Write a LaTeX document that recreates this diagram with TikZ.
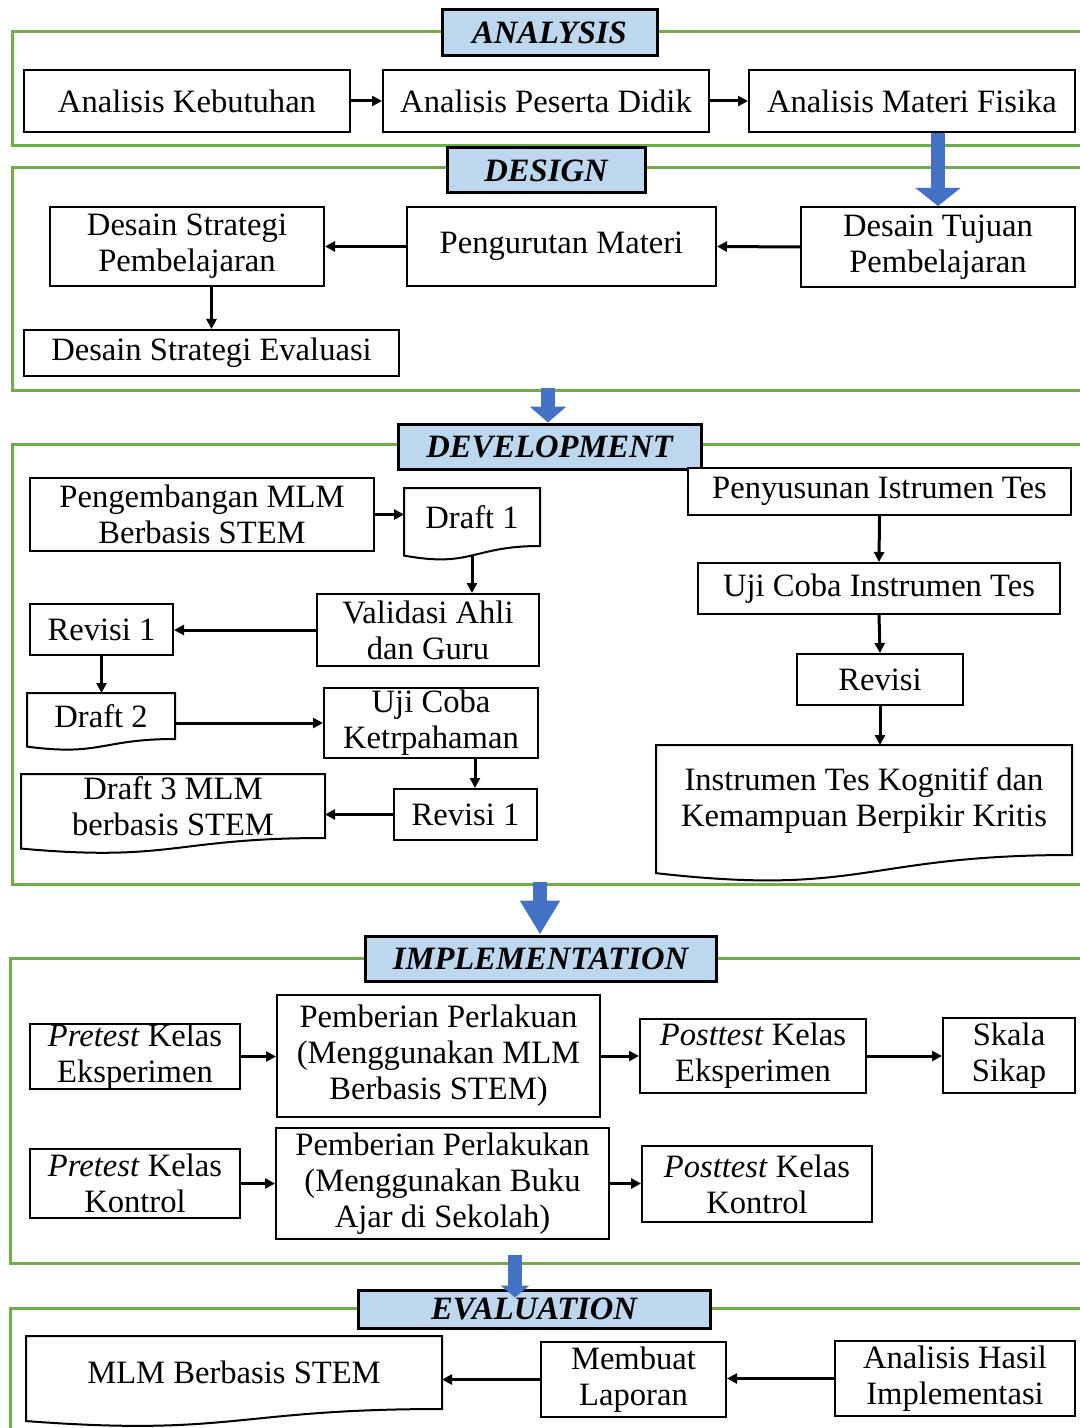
\documentclass[tikz,border=0pt]{standalone}
\usepackage{fontspec}
\setmainfont{Liberation Serif}
\usetikzlibrary{arrows.meta, calc}

\definecolor{framegreen}{HTML}{70AD47}
\definecolor{titleblue}{HTML}{BDD7EE}
\definecolor{arrowblue}{HTML}{4472C4}

% outline of a flowchart "document" node with a wavy bottom
\newcommand{\docoutline}[1]{%
  \draw[line width=1pt] (#1.north west) -- (#1.north east) -- (#1.south east)
    .. controls (#1.south) and ($(#1.north)!1.38!(#1.south)$)
    .. ($(#1.north west)!1.165!(#1.south west)$) -- cycle;
  \coordinate (#1-b) at ($(#1.north)!1.163!(#1.south)$);}

\begin{document}
\begin{tikzpicture}[
    x=0.5pt, y=-0.5pt,
    >={Triangle[length=5pt, width=5pt]},
    wh/.style 2 args={minimum width=#1*0.5pt, minimum height=#2*0.5pt},
    procbox/.style={draw, line width=1pt, fill=white, align=center,
                    inner sep=0pt, font=\fontsize{16.3}{18}\selectfont},
    docbox/.style={procbox, draw=none, fill=none},
    phasebox/.style={draw, line width=1.5pt, fill=titleblue, inner sep=0pt,
                     font=\fontsize{16.3}{18}\selectfont\bfseries\itshape},
    phaseframe/.style={draw=framegreen, line width=1.5pt},
    arr/.style={->, line width=1.5pt},
    bigarrow/.style 2 args={draw=arrowblue, line width=7pt,
                            -{Triangle[length=#1, width=#2]}}
  ]
  \useasboundingbox (0,0) rectangle (1080,1428);
  \fill[white] (0,0) rectangle (1080,1428);

  % green frames of the phases
  \draw[phaseframe] (1080,32) -- (12,32) -- (12,146) -- (1080,146);
  \draw[phaseframe] (1080,168) -- (12,168) -- (12,390) -- (1080,390);
  \draw[phaseframe] (1080,444) -- (12,444) -- (12,884) -- (1080,884);
  \draw[phaseframe] (1080,958) -- (10,958) -- (10,1263) -- (1080,1263);
  \draw[phaseframe] (1080,1308) -- (10,1308) -- (10,1428);

  \node[phasebox, wh={215}{46}] (analysis) at (549.5,33) {ANALYSIS};
  \node[phasebox, wh={198}{45}] (design) at (546,170.5) {DESIGN};
  \node[phasebox, wh={303}{45}] (development) at (549.5,446.5) {DEVELOPMENT};
  \node[phasebox, wh={351}{45}] (implementation) at (540.5,958.5) {IMPLEMENTATION};
  \node[phasebox, wh={352}{38}] (evaluation) at (534,1309) {EVALUATION};

  % analysis
  \node[procbox, wh={326}{62}] (kebutuhan) at (187,101) {Analisis Kebutuhan};
  \node[procbox, wh={326}{62}] (peserta) at (546,101) {Analisis Peserta Didik};
  \node[procbox, wh={326}{62}] (materi) at (912,101) {Analisis Materi Fisika};
  \draw[arr] (kebutuhan.east) -- (peserta.west);
  \draw[arr] (peserta.east) -- (materi.west);

  % design
  \node[procbox, wh={274}{79}] (strategi) at (187,246.5) {Desain Strategi\\Pembelajaran};
  \node[procbox, wh={309}{79}] (urutan) at (561.5,246.5) {Pengurutan Materi};
  \node[procbox, wh={274}{80}] (tujuan) at (938,247) {Desain Tujuan\\Pembelajaran};
  \node[procbox, wh={375}{46}] (evaluasi) at (211.5,353) {Desain Strategi Evaluasi};
  \draw[arr] (tujuan.west) -- (urutan.east);
  \draw[arr] (urutan.west) -- (strategi.east);
  \draw[arr] (evaluasi.north |- strategi.south) -- (evaluasi.north);

  % development
  \node[procbox, wh={344}{73}] (pengembangan) at (202,514.5) {Pengembangan MLM\\Berbasis STEM};
  \node[docbox, wh={134}{56}] (draft1) at (472,517) {Draft 1};
  \docoutline{draft1}
  \node[procbox, wh={222}{72}] (validasi) at (428,630) {Validasi Ahli\\dan Guru};
  \node[procbox, wh={143}{51}] (revisi1) at (101.5,629.5) {Revisi 1};
  \node[docbox, wh={146}{44}] (draft2) at (101,716) {Draft 2};
  \docoutline{draft2}
  \node[procbox, wh={214}{70}] (ujicoba) at (431,723) {Uji Coba\\Ketrpahaman};
  \node[procbox, wh={143}{51}] (revisi1b) at (465.5,814.5) {Revisi 1};
  \node[docbox, wh={302}{62}] (draft3) at (173,806) {Draft 3 MLM\\berbasis STEM};
  \docoutline{draft3}
  \draw[arr] (pengembangan.east) -- (pengembangan.east -| draft1.west);
  \draw[arr] (draft1-b) -- (validasi.north -| draft1-b);
  \draw[arr] (validasi.west) -- (validasi.west -| revisi1.east);
  \draw[arr] (revisi1.south) -- (revisi1.south |- draft2.north);
  \draw[arr] (draft2.east |- ujicoba.west) -- (ujicoba.west);
  \coordinate (ujidown) at (475,758);
  \draw[arr] (ujidown) -- (revisi1b.north -| ujidown);
  \draw[arr] (revisi1b.west) -- (revisi1b.west -| draft3.east);

  \node[procbox, wh={383}{47}] (penyusunan) at (879.5,491.5) {Penyusunan Istrumen Tes};
  \node[procbox, wh={362}{51}] (ujiinst) at (879,588.5) {Uji Coba Instrumen Tes};
  \node[procbox, wh={166}{51}] (revisi) at (880,679.5) {Revisi};
  \node[docbox, wh={414}{108}] (instrumen) at (864,800) {Instrumen Tes Kognitif dan\\Kemampuan Berpikir Kritis};
  \docoutline{instrumen}
  \draw[arr] (penyusunan.south) -- (ujiinst.north);
  \draw[arr] (ujiinst.south) -- (revisi.north);
  \draw[arr] (revisi.south) -- (revisi.south |- instrumen.north);

  % implementation
  \node[procbox, wh={210}{65}] (preexp) at (135,1056.5) {\textit{Pretest} Kelas\\Eksperimen};
  \node[procbox, wh={323}{122}] (perlakuan1) at (438.5,1056) {Pemberian Perlakuan\\(Menggunakan MLM\\Berbasis STEM)};
  \node[procbox, wh={226}{74}] (postexp) at (753,1056) {\textit{Posttest} Kelas\\Eksperimen};
  \node[procbox, wh={132}{75}] (skala) at (1009,1055.5) {Skala\\Sikap};
  \node[procbox, wh={210}{69}] (prekon) at (135,1183.5) {\textit{Pretest} Kelas\\Kontrol};
  \node[procbox, wh={333}{111}] (perlakuan2) at (442.5,1183.5) {Pemberian Perlakukan\\(Menggunakan Buku\\Ajar di Sekolah)};
  \node[procbox, wh={230}{76}] (postkon) at (757,1184) {\textit{Posttest} Kelas\\Kontrol};
  \draw[arr] (preexp.east) -- (preexp.east -| perlakuan1.west);
  \draw[arr] (perlakuan1.east) -- (perlakuan1.east -| postexp.west);
  \draw[arr] (postexp.east) -- (postexp.east -| skala.west);
  \draw[arr] (prekon.east) -- (prekon.east -| perlakuan2.west);
  \draw[arr] (perlakuan2.east) -- (perlakuan2.east -| postkon.west);

  % evaluation
  \node[docbox, wh={414}{71}] (mlm) at (234,1372.5) {MLM Berbasis STEM};
  \docoutline{mlm}
  \node[procbox, wh={185}{75}] (laporan) at (633.5,1379.5) {Membuat\\Laporan};
  \node[procbox, wh={240}{75}] (hasil) at (955,1378.5) {Analisis Hasil\\Implementasi};
  \draw[arr] (hasil.west) -- (hasil.west -| laporan.east);
  \draw[arr] (laporan.west) -- (laporan.west -| mlm.east);

  % block arrows between the phases
  \draw[bigarrow={9pt}{22pt}] (tujuan.north |- materi.south) -- (tujuan.north);
  \coordinate (dn2) at (548,388);
  \draw[bigarrow={8pt}{18pt}] (dn2) -- (development.north -| dn2);
  \coordinate (dn3) at (540,882);
  \draw[bigarrow={17pt}{19pt}] (dn3) -- (implementation.north -| dn3);
  \coordinate (dn4) at (515,1255);
  \draw[bigarrow={6pt}{14pt}] (dn4) -- ($(evaluation.north -| dn4)+(0,9)$);
\end{tikzpicture}
\end{document}
